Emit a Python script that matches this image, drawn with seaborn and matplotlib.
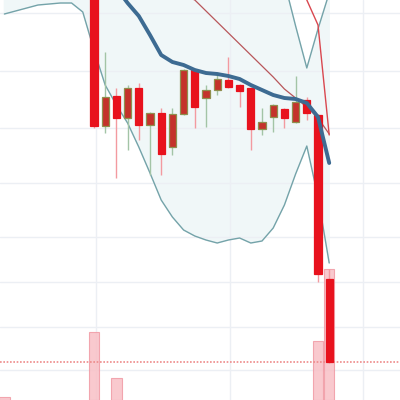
import numpy as np
import pandas as pd
import seaborn as sns
import matplotlib.pyplot as plt

# candle index -8..21 (only 0..21 have visible candles)
idx = list(range(-8, 22))
candle_idx = list(range(0, 22))

opens  = [460, 274, 304, 282, 312, 275, 287, 253, 286, 330, 302, 310, 320, 315, 312, 271, 283, 291, 278, 300, 285, 121]
highs  = [470, 348, 312, 315, 317, 288, 292, 292, 331, 331, 315, 328, 343, 316, 313, 292, 296, 292, 324, 303, 286, 131]
lows   = [272, 267, 222, 250, 260, 225, 225, 245, 285, 272, 273, 305, 312, 293, 250, 265, 268, 272, 277, 280, 118, 37]
closes = [274, 303, 282, 312, 275, 287, 246, 286, 330, 293, 310, 321, 313, 309, 271, 278, 295, 282, 298, 287, 126, 38]

# bollinger bands (index -8..21)
lower = [386, 389, 392, 395, 396, 397, 397, 388, 350, 315, 295, 277, 253, 227, 200, 183,
         170, 164, 160, 157, 160, 162, 157, 159, 172, 195, 226, 254, 203, 137]
upper = [440, 450, 460, 470, 480, 490, 500, 510, 570, 550, 540, 530, 515, 503, 495, 495,
         495, 494, 494, 490, 488, 480, 473, 460, 440, 418, 374, 332, 371, 407]

# middle band (index 0..21)
middle = [460, 435, 412, 397, 384, 365, 345, 338, 335, 330, 327, 326, 324, 321, 315, 310,
          305, 302, 301, 297, 283, 237]

# slow moving average (index 7..21)
slow_idx = list(range(7, 22))
slow_ma = [415, 405, 400, 389, 378, 367, 356, 345, 334, 323, 311, 302, 293, 282, 266]

# second thin red line (index 18..21)
red_idx = [18, 19, 20, 21]
red_line = [460, 400, 375, 265]

# volume bars visible in the lower pane
vol_idx = [-8, 0, 2, 20, 21]
volume = [3, 68, 22, 59, 131]

last_price = 38
grid_y = [387, 329, 272, 217, 163, 118, 73, 30]
grid_x = [0.15, 12.1, 24.0]

sns.set_theme(style="white")

fig = plt.figure(figsize=(4, 4), dpi=100)
ax = fig.add_axes([0, 0, 1, 1])
ax.set_xlim(-8.39, 27.32)
ax.set_ylim(0, 400)
ax.axis("off")

bands = pd.DataFrame({"i": idx, "lower": lower, "upper": upper})
ax.fill_between(bands["i"], bands["lower"], bands["upper"], color="#f0f7f8", zorder=0)

for gy in grid_y:
    ax.axhline(gy, color="#eceff4", lw=1, zorder=1)
for gx in grid_x:
    ax.axvline(gx, color="#eceff4", lw=1, zorder=1)

# volume
ax.bar(vol_idx, volume, bottom=0, width=0.92, color="#f8c0c6", edgecolor="#f19aa4",
       lw=0.8, alpha=0.85, zorder=2)

ax.axhline(last_price, color="#ee8a8a", lw=1.2, ls=(0, (1, 1)), zorder=3)

sns.lineplot(data=bands, x="i", y="lower", ax=ax, color="#74a3a9", lw=1, zorder=4)
sns.lineplot(data=bands, x="i", y="upper", ax=ax, color="#74a3a9", lw=1, zorder=4)
sns.lineplot(x=slow_idx, y=slow_ma, ax=ax, color="#b8565a", lw=0.9, zorder=4)
sns.lineplot(x=red_idx, y=red_line, ax=ax, color="#d9474f", lw=1, zorder=4)

# candles
for i, o, h, l, c in zip(candle_idx, opens, highs, lows, closes):
    up = c >= o
    wick = "#a3c4a6" if up else "#f39aa0"
    face = "#c4322b" if up else "#e8121d"
    edge = "#8f8f4e" if up else "#e8121d"
    ax.vlines(i, l, h, color=wick, lw=1, zorder=5)
    ax.bar(i, abs(c - o), bottom=min(o, c), width=0.64, color=face, edgecolor=edge,
           lw=0.9, zorder=6)

sns.lineplot(x=candle_idx, y=middle, ax=ax, color="#3d6b92", lw=2.8, zorder=7)

ax.set_xlim(-8.39, 27.32)
ax.set_ylim(0, 400)
fig.savefig("out.png", dpi=100)
